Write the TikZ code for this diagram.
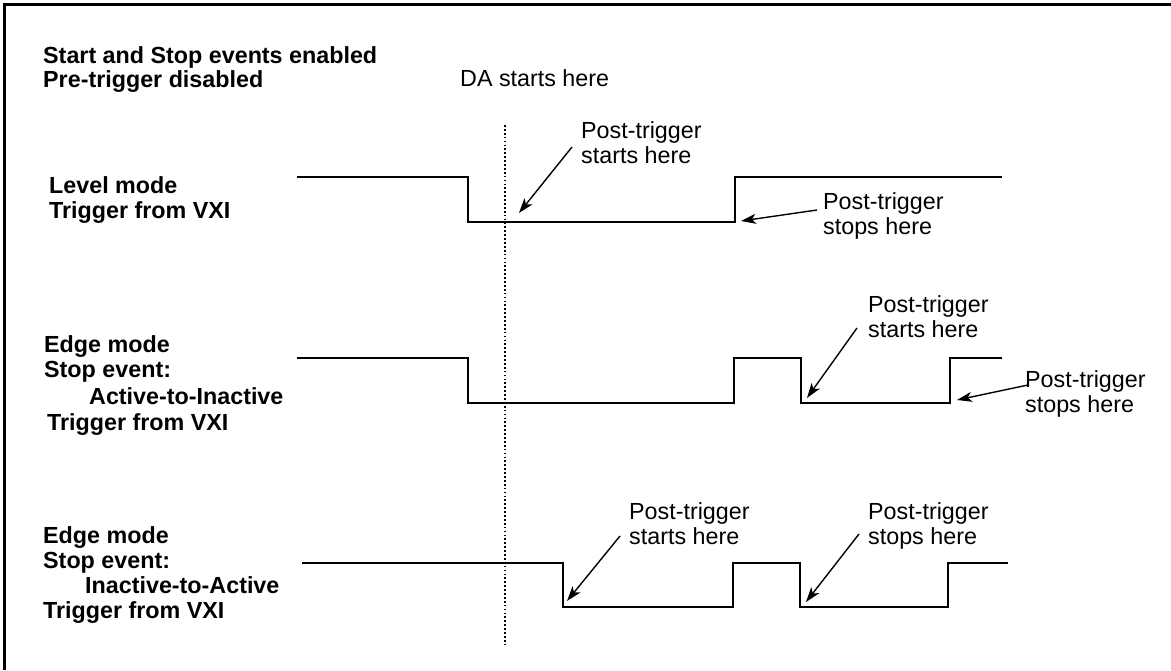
\documentclass[tikz,border=0pt]{standalone}
\usepackage{fontspec}
\setmainfont{Liberation Sans}
\usetikzlibrary{arrows.meta}
\tikzset{
  lbl/.style={anchor=base west,inner sep=0pt,font=\fontsize{23.3}{25}\selectfont\bfseries},
  txt/.style={anchor=base west,inner sep=0pt,font=\fontsize{23.3}{25}\selectfont},
  wave/.style={line width=2.9pt,line join=miter},
  ptr/.style={line width=1.4pt,-{Stealth[length=15pt,width=10pt,inset=4pt]}},
  frame/.style={line width=3pt},
  marker/.style={line width=1.7pt,dash pattern=on 1.7pt off 2.2pt}
}
\begin{document}
\begin{tikzpicture}[x=1pt,y=-1pt]
\useasboundingbox (0,0) rectangle (1171,670);
% frame (top and left edges)
\draw[frame] (4,670) -- (4,4) -- (1171,4);

% titles
\node[lbl] (t1) at (43,63) {Start and Stop events enabled};
\node[lbl] (t2) at (43,87) {Pre-trigger disabled};
\node[txt] (da) at (460,86) {DA starts here};

% row labels
\node[lbl] (r1a) at (49,193) {Level mode};
\node[lbl] (r1b) at (49,218) {Trigger from VXI};

\node[lbl] (r2a) at (44,352) {Edge mode};
\node[lbl] (r2b) at (44,377) {Stop event:};
\node[lbl] (r2c) at (89,404) {Active-to-Inactive};
\node[lbl] (r2d) at (47,430) {Trigger from VXI};

\node[lbl] (r3a) at (43,543) {Edge mode};
\node[lbl] (r3b) at (43,568) {Stop event:};
\node[lbl] (r3c) at (85,593) {Inactive-to-Active};
\node[lbl] (r3d) at (43,618) {Trigger from VXI};

% dotted marker
\coordinate (dtop) at (505,125);
\coordinate (dbot) at (505,645);
\draw[marker] (dtop) -- (dbot);

% waveforms
\draw[wave] (297,177) -- (468,177) -- (468,222) -- (735,222) -- (735,177) -- (1002,177);
\draw[wave] (297,358) -- (468,358) -- (468,403) -- (734,403) -- (734,358) -- (801,358) -- (801,403) -- (950,403) -- (950,358) -- (1002,358);
\draw[wave] (302,563) -- (563,563) -- (563,607) -- (733,607) -- (733,563) -- (800,563) -- (800,607) -- (948,607) -- (948,563) -- (1008,563);

% annotations
\node[txt] (a1) at (581,138) {Post-trigger};
\node[txt] (a1b) at (581,163) {starts here};
\node[txt] (b1) at (823,209) {Post-trigger};
\node[txt] (b1b) at (823,234) {stops here};

\node[txt] (a2) at (868,312) {Post-trigger};
\node[txt] (a2b) at (868,337) {starts here};
\node[txt] (b2) at (1025,387) {Post-trigger};
\node[txt] (b2b) at (1025,412) {stops here};

\node[txt] (a3) at (629,519) {Post-trigger};
\node[txt] (a3b) at (629,544) {starts here};
\node[txt] (b3) at (868,519) {Post-trigger};
\node[txt] (b3b) at (868,544) {stops here};

% arrow end points
\coordinate (s1) at (572,147);  \coordinate (e1) at (519,213);
\coordinate (s2) at (817,210);  \coordinate (e2) at (741,221);
\coordinate (s3) at (857,328);  \coordinate (e3) at (807,398);
\coordinate (s4) at (1028,385); \coordinate (e4) at (957,400);
\coordinate (s5) at (620,536);  \coordinate (e5) at (567,601);
\coordinate (s6) at (859,534);  \coordinate (e6) at (806,602);

\draw[ptr] (s1) -- (e1);
\draw[ptr] (s2) -- (e2);
\draw[ptr] (s3) -- (e3);
\draw[ptr] (s4) -- (e4);
\draw[ptr] (s5) -- (e5);
\draw[ptr] (s6) -- (e6);
\end{tikzpicture}
\end{document}
